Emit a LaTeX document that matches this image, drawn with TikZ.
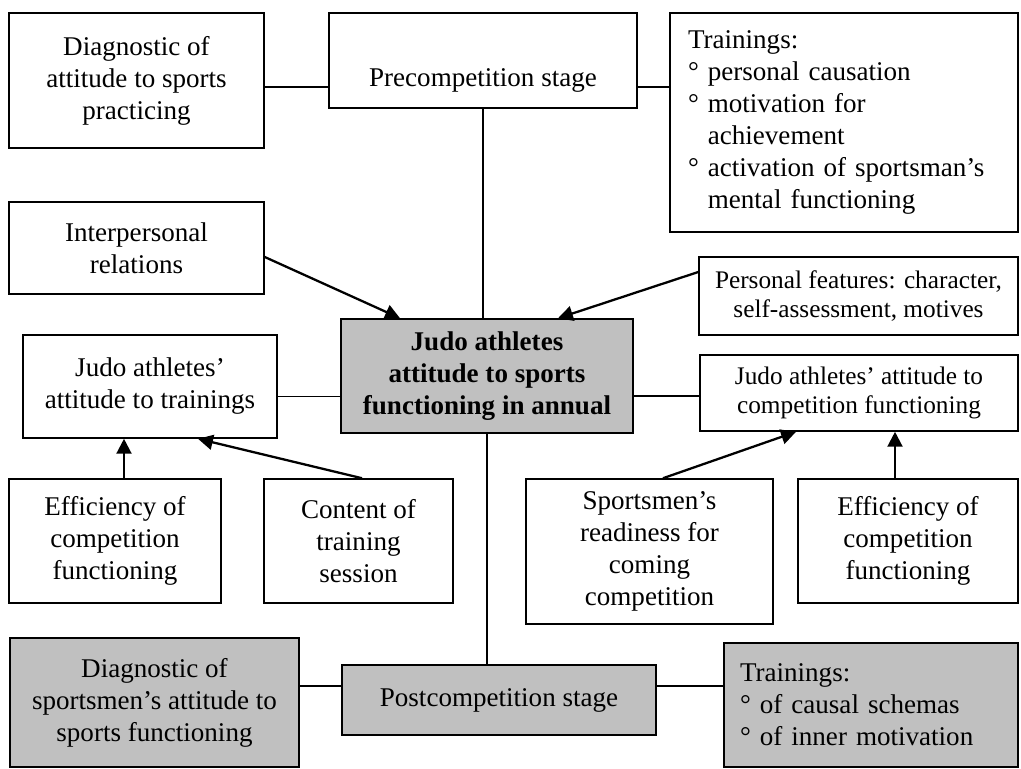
\documentclass[tikz,border=0pt]{standalone}
\usepackage{fontspec}
\setmainfont{Liberation Serif}
\usetikzlibrary{arrows.meta}
\definecolor{boxgrey}{RGB}{192,192,192}
\newcommand\diagfont{\fontsize{15.4pt}{18.2pt}\selectfont}
\newcommand\smallfont{\fontsize{14.4pt}{16.8pt}\selectfont}
\begin{document}
\begin{tikzpicture}[x=0.02cm, y=-0.02cm,
    box/.style={draw, line width=0.9pt, align=center, inner sep=1pt, font=\diagfont},
    greybox/.style={box, fill=boxgrey},
    listbox/.style={box, align=left, inner ysep=1pt},
    link/.style={line width=0.7pt},
    arr/.style={line width=1.3pt, -{Triangle[length=8.5pt,width=8.5pt]}}]
    \useasboundingbox (0,0) rectangle (1021,768);

    % precompetition stage
    \node[box, minimum width=5.10cm, minimum height=2.70cm] (diagA) at (136.5,80.5) {Diagnostic of\\attitude to sports\\practicing};
    \node[box, minimum width=6.16cm, inner ysep=0pt, text height=1.48cm, text depth=0.42cm] (pre) at (483,60.5) {Precompetition stage};
    \node[listbox, text width=6.24cm, inner xsep=0.36cm, minimum height=4.38cm] (trainA) at (844,122.5)
        {Trainings:\\° personal causation\\° motivation for\\\phantom{° }achievement\\° activation of sportsman’s\\\phantom{° }mental functioning};

    % influences on the centre
    \node[box, minimum width=5.10cm, minimum height=1.84cm] (inter) at (136.5,248) {Interpersonal\\relations};
    \node[box, font=\smallfont, minimum width=6.38cm, minimum height=1.56cm] (pers) at (858.5,296) {Personal features: character,\\self-assessment, motives};
    \node[greybox, font=\diagfont\bfseries, minimum width=5.84cm, minimum height=2.28cm] (core) at (487,376) {Judo athletes\\attitude to sports\\functioning in annual};
    \node[box, minimum width=5.08cm, minimum height=2.06cm] (judoT) at (150,386.5) {Judo athletes’\\attitude to trainings};
    \node[box, font=\smallfont, minimum width=6.36cm, minimum height=1.52cm] (judoC) at (859,393) {Judo athletes’ attitude to\\competition functioning};

    % factors
    \node[box, minimum width=4.24cm, minimum height=2.48cm] (effA) at (115,541) {Efficiency of\\competition\\functioning};
    \node[box, minimum width=3.78cm, minimum height=2.48cm] (content) at (358.5,541) {Content of\\training\\session};
    \node[box, minimum width=4.94cm, minimum height=2.90cm] (ready) at (649.5,551.5) {Sportsmen’s\\readiness for\\coming\\competition};
    \node[box, minimum width=4.40cm, minimum height=2.48cm] (effB) at (908,541) {Efficiency of\\competition\\functioning};

    % postcompetition stage
    \node[greybox, minimum width=5.78cm, minimum height=2.58cm] (diagB) at (154.5,702.5) {Diagnostic of\\sportsmen’s attitude to\\sports functioning};
    \node[greybox, minimum width=6.28cm, minimum height=1.40cm] (post) at (499,700) {Postcompetition stage};
    \node[listbox, fill=boxgrey, text width=5.24cm, inner xsep=0.32cm, minimum height=2.48cm] (trainB) at (871,705)
        {Trainings:\\° of causal schemas\\° of inner motivation};

    \draw[link] ([yshift=-0.13cm]diagA.east) -- ([yshift=-0.13cm]diagA.east -| pre.west);
    \draw[link] ([yshift=-0.53cm]pre.east) -- ([yshift=-0.53cm]pre.east -| trainA.west);
    \draw[link] (pre.south) -- (pre.south |- core.north);
    \draw[link] (core.south) -- (core.south |- post.north);
    \draw[arr] ([yshift=-0.18cm]inter.east) -- ([xshift=-1.74cm]core.north);
    \draw[arr] ([yshift=0.48cm]pers.west) -- ([xshift=1.42cm]core.north);
    \draw[link] ([yshift=-0.2cm]judoT.east) -- ([yshift=-0.2cm]judoT.east -| core.west);
    \draw[link] ([yshift=-0.06cm]judoC.west) -- ([yshift=-0.06cm]judoC.west -| core.east);
    \draw[arr] ([xshift=0.18cm]effA.north) -- ([xshift=0.18cm]effA.north |- judoT.south);
    \draw[arr] ([xshift=0.07cm]content.north) -- ([xshift=0.96cm]judoT.south);
    \draw[arr] ([xshift=0.27cm]ready.north) -- ([xshift=-1.26cm]judoC.south);
    \draw[arr] ([xshift=-0.26cm]effB.north) -- ([xshift=-0.26cm]effB.north |- judoC.south);
    \draw[link] ([yshift=0.33cm]diagB.east) -- ([yshift=0.33cm]diagB.east -| post.west);
    \draw[link] ([yshift=0.28cm]post.east) -- ([yshift=0.28cm]post.east -| trainB.west);
\end{tikzpicture}
\end{document}
